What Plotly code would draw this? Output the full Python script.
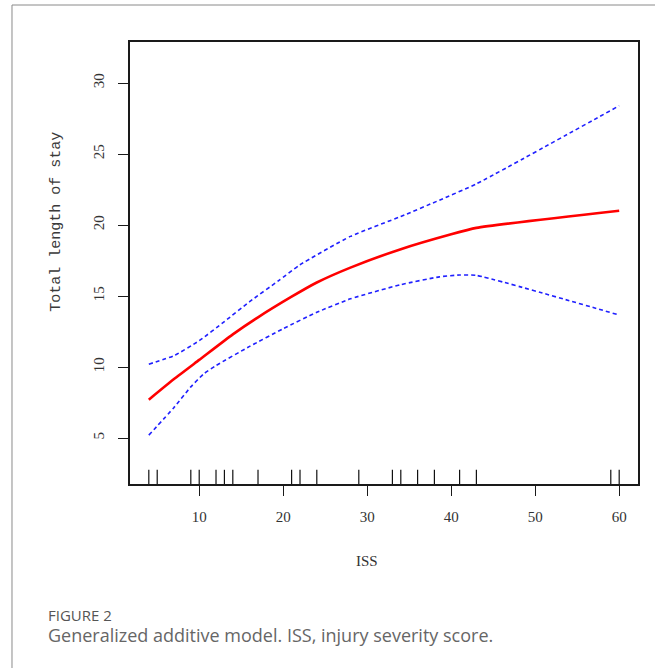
import plotly.graph_objects as go

# ---- data ----
fit_x = [4, 7, 10, 14, 17, 21, 24, 28, 34, 40, 43, 60]
fit_y = [7.7, 9.15, 10.5, 12.3, 13.5, 14.95, 15.95, 17.0, 18.3, 19.35, 19.8, 21.0]

upper_x = [4, 7, 10, 13, 16, 19.5, 22, 28, 34, 38.6, 43, 60]
upper_y = [10.2, 10.8, 11.85, 13.2, 14.6, 16.1, 17.2, 19.2, 20.6, 21.75, 22.9, 28.4]

lower_x = [4, 7, 9, 10.5, 12, 16, 20, 24, 28, 34, 38.6, 41, 43, 60]
lower_y = [5.2, 7.15, 8.6, 9.5, 10.1, 11.45, 12.7, 13.85, 14.8, 15.8, 16.35, 16.48, 16.45, 13.66]

rug_x = [4, 5, 9, 10, 12, 13, 14, 17, 21, 22, 24, 29, 33, 34, 36, 38, 41, 43, 59, 60]

x_ticks = [10, 20, 30, 40, 50, 60]
y_ticks = [5, 10, 15, 20, 25, 30]

x_range = [1.76, 62.24]
y_range = [1.76, 32.89]
rug_len = 1.0

serif = "Liberation Serif"
title_font = "Liberation Mono"
sans = "Open Sans"

fig = go.Figure()

# rug
rx, ry = [], []
for v in rug_x:
    rx += [v, v, None]
    ry += [y_range[0], y_range[0] + rug_len, None]
fig.add_trace(go.Scatter(x=rx, y=ry, mode="lines",
                         line=dict(color="#111111", width=1.2),
                         hoverinfo="skip", showlegend=False))

fig.add_trace(go.Scatter(x=upper_x, y=upper_y, mode="lines",
                         line=dict(color="#2020ff", width=1.6, dash="4px,3px", shape="spline", smoothing=0.5),
                         showlegend=False))
fig.add_trace(go.Scatter(x=lower_x, y=lower_y, mode="lines",
                         line=dict(color="#2020ff", width=1.6, dash="4px,3px", shape="spline", smoothing=0.5),
                         showlegend=False))
fig.add_trace(go.Scatter(x=fit_x, y=fit_y, mode="lines",
                         line=dict(color="#ff0000", width=2.6, shape="spline", smoothing=0.5),
                         showlegend=False))

axis_common = dict(showgrid=False, zeroline=False, showline=True, mirror=True,
                   linecolor="#1a1a1a", linewidth=1.5, ticks="outside",
                   ticklen=10, tickwidth=1.2, tickcolor="#1a1a1a",
                   tickfont=dict(family=serif, size=15, color="#333333"))

fig.update_xaxes(range=x_range, tickvals=x_ticks, ticktext=[str(t) for t in x_ticks],
                 ticklabelstandoff=8, **axis_common)
fig.update_yaxes(range=y_range, tickvals=y_ticks, ticktext=[str(t) for t in y_ticks],
                 tickangle=-90, ticklabelstandoff=8, **axis_common)

fig.update_layout(
    width=655, height=668,
    margin=dict(l=130, r=17, t=42, b=184),
    paper_bgcolor="white", plot_bgcolor="white",
    annotations=[
        dict(text="ISS", x=0.4665, y=-0.174, xref="paper", yref="paper",
             xanchor="center", yanchor="middle",
             showarrow=False, font=dict(family=serif, size=15, color="#333333")),
        dict(text="Total length of stay", x=-0.144, y=0.593, xref="paper", yref="paper",
             xanchor="center", yanchor="middle",
             textangle=-90, showarrow=False, font=dict(family=title_font, size=15, color="#3a3a3a")),
        dict(text="FIGURE 2", x=-0.165, y=-0.296, xref="paper", yref="paper",
             xanchor="left", yanchor="middle",
             showarrow=False, font=dict(family=sans, size=15, color="#555555")),
        dict(text="Generalized additive model. ISS, injury severity score.", x=-0.165, y=-0.341,
             xref="paper", yref="paper", xanchor="left", yanchor="middle", showarrow=False,
             font=dict(family=sans, size=18, color="#666666")),
    ],
    shapes=[
        dict(type="line", xref="paper", yref="paper", x0=-0.2323, x1=1.05, y0=1.0837, y1=1.0837,
             line=dict(color="#8a8a8a", width=1)),
        dict(type="line", xref="paper", yref="paper", x0=-0.2323, x1=-0.2323, y0=1.0837, y1=-0.45,
             line=dict(color="#8a8a8a", width=1)),
    ],
)

fig.write_html("out.html", config={"displayModeBar": False},
               post_script="document.body.style.margin='0px';")
